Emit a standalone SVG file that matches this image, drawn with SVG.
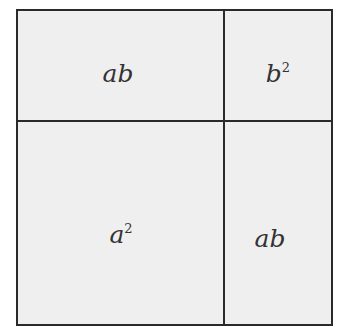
<svg xmlns="http://www.w3.org/2000/svg" width="338" height="327" viewBox="0 0 338 327">
<style>
.cell{fill:#efefef;stroke:#2a2a2a;stroke-width:2}
.t{font-family:"DejaVu Serif","Liberation Serif",serif;font-style:italic;font-size:25px;fill:#333;text-anchor:middle}
.s{font-size:13px;font-style:normal}
</style>
<rect width="338" height="327" fill="#ffffff"/>
<g id="ab-top"><rect class="cell" x="17" y="10" width="207" height="111"/><text class="t" x="118" y="82">ab</text></g>
<g id="b2"><rect class="cell" x="224" y="10" width="108" height="111"/><text class="t" x="278" y="82">b<tspan class="s" dy="-10">2</tspan></text></g>
<g id="a2"><rect class="cell" x="17" y="121" width="207" height="204"/><text class="t" x="121" y="243">a<tspan class="s" dy="-10">2</tspan></text></g>
<g id="ab-bottom"><rect class="cell" x="224" y="121" width="108" height="204"/><text class="t" x="270" y="247">ab</text></g>
<g id="connectors"/>
</svg>
